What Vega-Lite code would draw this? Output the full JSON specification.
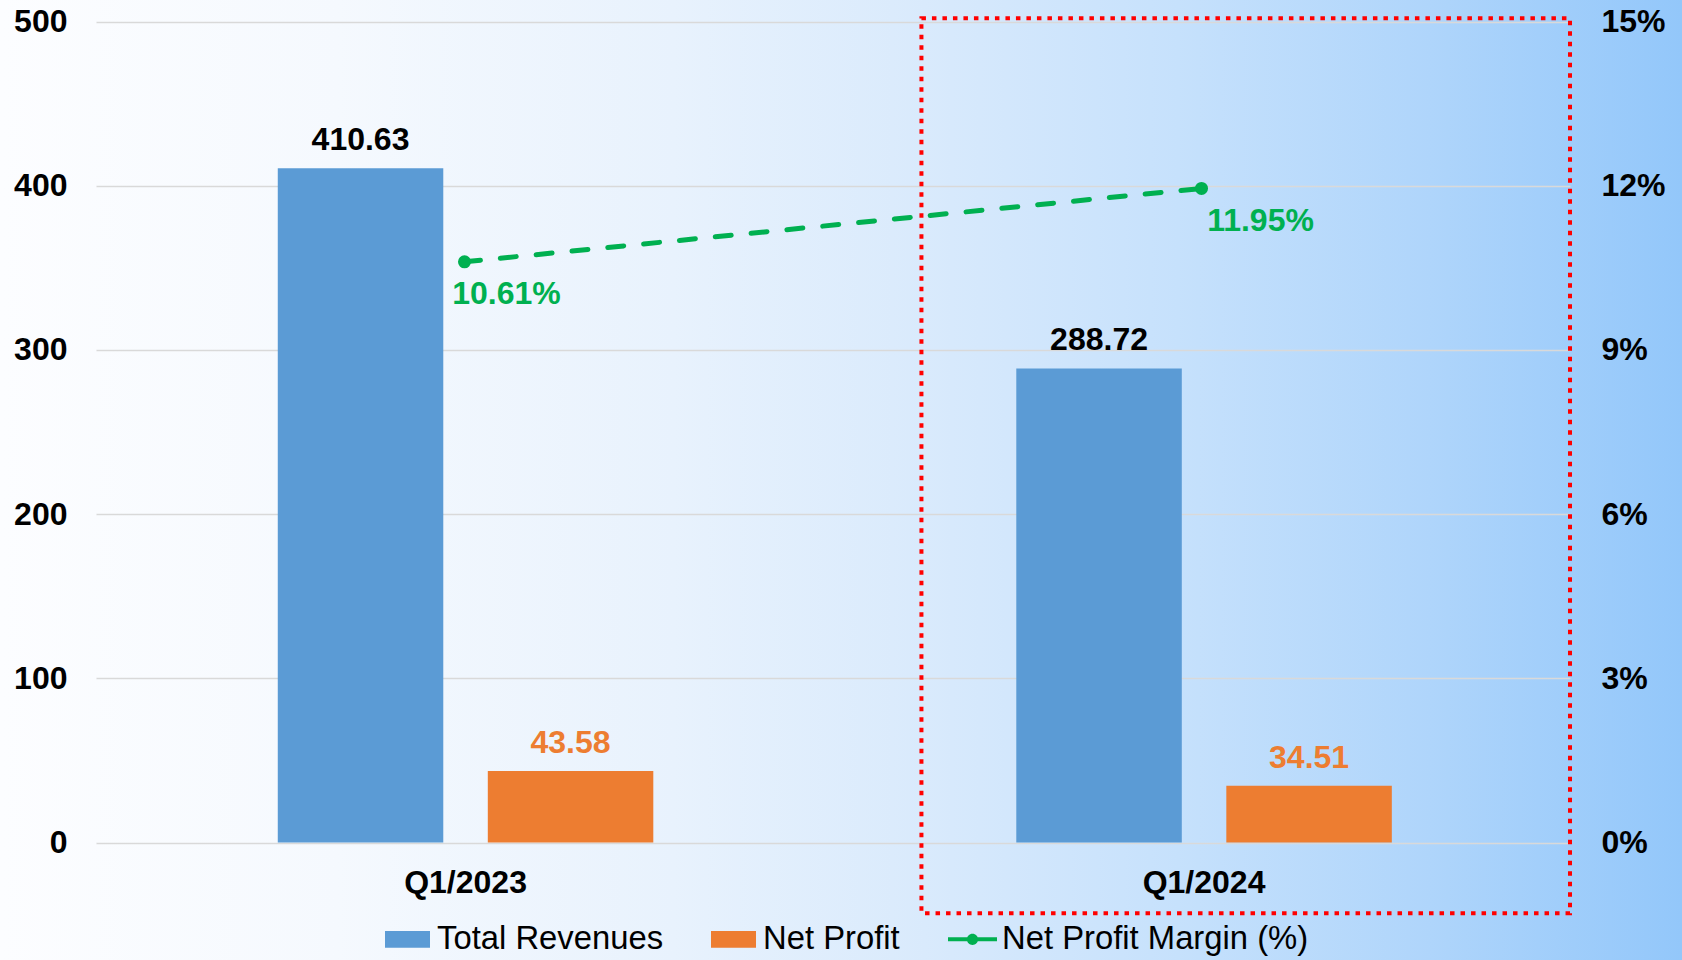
{
  "$schema": "https://vega.github.io/schema/vega-lite/v6.json",
  "width": 1682,
  "height": 960,
  "autosize": {"type": "none"},
  "padding": 0,
  "background": "#EEF5FD",
  "config": {
    "view": {
      "stroke": null,
      "fill": {
        "gradient": "linear",
        "x1": 0, "y1": 0, "x2": 1, "y2": 0,
        "stops": [
          {"offset": 0, "color": "#FCFDFF"},
          {"offset": 0.2, "color": "#F5F9FE"},
          {"offset": 0.4, "color": "#E8F2FD"},
          {"offset": 0.55, "color": "#D9EAFC"},
          {"offset": 0.7, "color": "#C6E1FC"},
          {"offset": 0.85, "color": "#AFD5FB"},
          {"offset": 1, "color": "#93C7FA"}
        ]
      }
    },
    "font": "Liberation Sans",
    "text": {"font": "Liberation Sans"}
  },
  "datasets": {
    "bars": [
      {"period": "Q1/2023", "series": "Total Revenues", "value": 410.63},
      {"period": "Q1/2023", "series": "Net Profit", "value": 43.58},
      {"period": "Q1/2024", "series": "Total Revenues", "value": 288.72},
      {"period": "Q1/2024", "series": "Net Profit", "value": 34.51}
    ],
    "margin": [
      {"period": "Q1/2023", "series": "Net Profit Margin (%)", "margin": 0.1061},
      {"period": "Q1/2024", "series": "Net Profit Margin (%)", "margin": 0.1195}
    ],
    "frame": [{"item": "frame"}]
  },
  "resolve": {"scale": {"x": "independent", "y": "independent"}},
  "layer": [
    {
      "data": {"name": "bars"},
      "layer": [
        {
          "mark": {"type": "bar"},
          "encoding": {
            "x": {
              "field": "period", "type": "nominal", "sort": ["Q1/2023", "Q1/2024"],
              "scale": {"range": [96, 1570], "paddingInner": 0.4915, "paddingOuter": 0.2437, "align": 0.505},
              "axis": {
                "orient": "bottom", "offset": -117.5, "title": null, "labelAngle": 0, "ticks": false, "domain": false,
                "labelFontSize": 32, "labelFontWeight": "bold", "labelColor": "#000000",
                "labelPadding": 25, "labelFont": "Liberation Sans", "grid": false
              }
            },
            "xOffset": {
              "field": "series", "type": "nominal", "sort": ["Total Revenues", "Net Profit"],
              "scale": {"paddingInner": 0.212, "paddingOuter": 0}
            },
            "y": {
              "field": "value", "type": "quantitative",
              "scale": {"domain": [0, 500], "nice": false, "range": [842.5, 21.5]},
              "axis": {
                "orient": "left", "offset": -96, "title": null, "values": [0, 100, 200, 300, 400, 500],
                "ticks": false, "domain": false, "grid": true, "gridColor": "#D9D9D9", "gridWidth": 1.3,
                "labelFontSize": 32, "labelFontWeight": "bold", "labelColor": "#000000",
                "labelPadding": 29, "labelFont": "Liberation Sans"
              }
            },
            "color": {
              "field": "series", "type": "nominal",
              "scale": {
                "domain": ["Total Revenues", "Net Profit", "Net Profit Margin (%)"],
                "range": ["#5B9BD5", "#ED7D31", "#00B050"]
              },
              "legend": {
                "title": null, "orient": "none", "direction": "horizontal",
                "legendX": 385, "legendY": 916.5,
                "padding": 0, "columnPadding": 47, "labelOffset": 7,
                "labelFontSize": 32.8, "labelFont": "Liberation Sans", "labelColor": "#000000",
                "labelLimit": 600, "symbolSize": 2025, "labelBaseline": "middle",
                "encode": {
                  "symbols": {
                    "update": {
                      "shape": {"signal": "datum.value === 'Net Profit Margin (%)' ? 'M-1.09,-0.09L1.09,-0.09L1.09,0.09L-1.09,0.09Z M-0.25,0A0.25,0.25 0 1,1 0.25,0A0.25,0.25 0 1,1 -0.25,0Z' : 'M-1,-0.37L1,-0.37L1,0.37L-1,0.37Z'"},
                      "fill": {"signal": "datum.value === 'Total Revenues' ? '#5B9BD5' : (datum.value === 'Net Profit' ? '#ED7D31' : '#00B050')"},
                      "stroke": {"value": "transparent"},
                      "strokeWidth": {"value": 0},
                      "opacity": {"value": 1},
                      "fillOpacity": {"value": 1}
                    }
                  }
                }
              }
            }
          }
        },
        {
          "mark": {"type": "text", "fontSize": 32, "fontWeight": "bold", "baseline": "alphabetic", "align": "center", "dy": -18},
          "encoding": {
            "x": {"field": "period", "type": "nominal", "sort": ["Q1/2023", "Q1/2024"]},
            "xOffset": {"field": "series", "type": "nominal", "sort": ["Total Revenues", "Net Profit"]},
            "y": {"field": "value", "type": "quantitative"},
            "text": {"field": "value", "type": "quantitative", "format": ".2f"},
            "color": {"condition": {"test": "datum.series === 'Net Profit'", "value": "#ED7D31"}, "value": "#000000"}
          }
        }
      ]
    },
    {
      "data": {"name": "margin"},
      "layer": [
        {
          "mark": {"type": "line", "strokeWidth": 5, "strokeDash": [16, 20], "strokeCap": "round"},
          "encoding": {
            "x": {
              "field": "period", "type": "nominal", "sort": ["Q1/2023", "Q1/2024"],
              "scale": {"range": [96, 1570], "paddingInner": 0.4915, "paddingOuter": 0.2437, "align": 0.5}, "axis": null
            },
            "y": {
              "field": "margin", "type": "quantitative",
              "scale": {"domain": [0, 0.15], "nice": false, "range": [842.5, 21.5]},
              "axis": {
                "orient": "right", "offset": -112, "title": null, "values": [0, 0.03, 0.06, 0.09, 0.12, 0.15],
                "format": ".0%", "ticks": false, "domain": false, "grid": false,
                "labelFontSize": 32, "labelFontWeight": "bold", "labelColor": "#000000",
                "labelPadding": 31, "labelFont": "Liberation Sans"
              }
            },
            "color": {
              "field": "series", "type": "nominal",
              "scale": {
                "domain": ["Total Revenues", "Net Profit", "Net Profit Margin (%)"],
                "range": ["#5B9BD5", "#ED7D31", "#00B050"]
              },
              "legend": {
                "title": null, "orient": "none", "direction": "horizontal",
                "legendX": 385, "legendY": 916.5,
                "padding": 0, "columnPadding": 47, "labelOffset": 7,
                "labelFontSize": 32.8, "labelFont": "Liberation Sans", "labelColor": "#000000",
                "labelLimit": 600, "symbolSize": 2025, "labelBaseline": "middle",
                "encode": {
                  "symbols": {
                    "update": {
                      "shape": {"signal": "datum.value === 'Net Profit Margin (%)' ? 'M-1.09,-0.09L1.09,-0.09L1.09,0.09L-1.09,0.09Z M-0.25,0A0.25,0.25 0 1,1 0.25,0A0.25,0.25 0 1,1 -0.25,0Z' : 'M-1,-0.37L1,-0.37L1,0.37L-1,0.37Z'"},
                      "fill": {"signal": "datum.value === 'Total Revenues' ? '#5B9BD5' : (datum.value === 'Net Profit' ? '#ED7D31' : '#00B050')"},
                      "stroke": {"value": "transparent"},
                      "strokeWidth": {"value": 0},
                      "opacity": {"value": 1},
                      "fillOpacity": {"value": 1}
                    }
                  }
                }
              }
            }
          }
        },
        {
          "mark": {"type": "point", "filled": true, "shape": "circle", "size": 170, "opacity": 1, "color": "#00B050"},
          "encoding": {
            "x": {"field": "period", "type": "nominal", "sort": ["Q1/2023", "Q1/2024"]},
            "y": {"field": "margin", "type": "quantitative"}
          }
        },
        {
          "transform": [{"filter": "datum.period === 'Q1/2023'"}],
          "mark": {"type": "text", "fontSize": 32, "fontWeight": "bold", "color": "#00B050", "baseline": "alphabetic", "align": "center", "dx": 42, "dy": 42},
          "encoding": {
            "x": {"field": "period", "type": "nominal", "sort": ["Q1/2023", "Q1/2024"]},
            "y": {"field": "margin", "type": "quantitative"},
            "text": {"field": "margin", "type": "quantitative", "format": ".2%"}
          }
        },
        {
          "transform": [{"filter": "datum.period === 'Q1/2024'"}],
          "mark": {"type": "text", "fontSize": 32, "fontWeight": "bold", "color": "#00B050", "baseline": "alphabetic", "align": "center", "dx": 59, "dy": 43},
          "encoding": {
            "x": {"field": "period", "type": "nominal", "sort": ["Q1/2023", "Q1/2024"]},
            "y": {"field": "margin", "type": "quantitative"},
            "text": {"field": "margin", "type": "quantitative", "format": ".2%"}
          }
        }
      ]
    },
    {
      "data": {"name": "frame"},
      "mark": {"type": "rect", "fill": null, "fillOpacity": 0, "stroke": "#FF0000", "strokeWidth": 4, "strokeDash": [4.5, 6]},
      "encoding": {
        "x": {"datum": 0.56, "type": "quantitative", "scale": {"domain": [0, 1], "nice": false, "zero": false, "range": [96, 1570]}, "axis": null},
        "x2": {"datum": 1.0},
        "y": {"datum": -0.0862, "type": "quantitative", "scale": {"domain": [0, 1], "nice": false, "zero": false, "range": [842.5, 21.5]}, "axis": null},
        "y2": {"datum": 1.0039}
      }
    }
  ]
}
